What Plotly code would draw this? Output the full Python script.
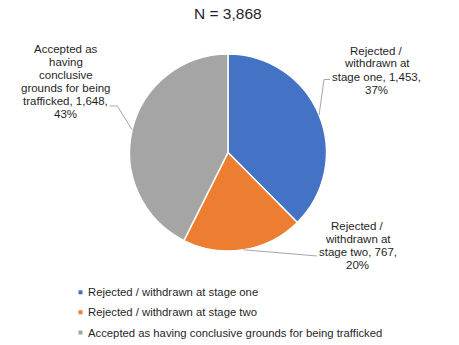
import math
import plotly.graph_objects as go

# Data
categories = [
    "Rejected / withdrawn at stage one",
    "Rejected / withdrawn at stage two",
    "Accepted as having conclusive grounds for being trafficked",
]
values = [1453, 767, 1648]
percent_labels = ["37%", "20%", "43%"]
label_lines = [
    ["Rejected /", "withdrawn at", "stage one, {v},", "{p}"],
    ["Rejected /", "withdrawn at", "stage two, {v},", "{p}"],
    ["Accepted as", "having", "conclusive", "grounds for being", "trafficked, {v},", "{p}"],
]
colors = ["#4472C4", "#ED7D31", "#A5A5A5"]

W, H = 459, 345
CX, CY, R = 228, 152.5, 98.5  # pie centre / radius in px
FONT = "Liberation Sans, Arial"
TEXT_COLOR = "#1f1f1f"


def px(x, y):
    return x / W, 1 - y / H


total = sum(values)

fig = go.Figure()
fig.add_trace(go.Pie(
    labels=categories,
    values=values,
    sort=False,
    direction="clockwise",
    rotation=0,
    marker=dict(colors=colors, line=dict(color="white", width=1.5)),
    textinfo="none",
    hoverinfo="label+value+percent",
    showlegend=False,
    domain=dict(x=[(CX - R) / W, (CX + R) / W], y=[1 - (CY + R) / H, 1 - (CY - R) / H]),
))

# Label block centres and leader-line elbows (px)
label_pos = [(376.5, 70), (357.5, 245.5), (65.5, 81.7)]
line_step = 13
elbows = [[(324, 79.5), (330, 79.5)], [(317, 256)], [(117.3, 106), (109.5, 106)]]

shapes = []
annotations = []
cum = 0
for i, v in enumerate(values):
    mid = (cum + v / 2) / total * 2 * math.pi
    cum += v
    ax_, ay_ = CX + R * math.sin(mid), CY - R * math.cos(mid)
    pts = [(ax_, ay_)] + elbows[i]
    path = "M " + " L ".join("{:.4f},{:.4f}".format(*px(x, y)) for x, y in pts)
    shapes.append(dict(type="path", path=path, xref="paper", yref="paper",
                       line=dict(color="#A6A6A6", width=1)))
    lines = [s.format(v="{:,}".format(v), p=percent_labels[i]) for s in label_lines[i]]
    cx_, cy_ = label_pos[i]
    y0 = cy_ - (len(lines) - 1) * line_step / 2
    for k, s in enumerate(lines):
        lx, ly = px(cx_, y0 + k * line_step)
        annotations.append(dict(
            x=lx, y=ly, xref="paper", yref="paper", showarrow=False, text=s,
            font=dict(family=FONT, size=11.5, color=TEXT_COLOR),
            xanchor="center", yanchor="middle",
        ))

# Legend drawn below the pie
legend_y = [292.3, 312.3, 332.5]
for i, name in enumerate(categories):
    shapes.append(dict(type="rect", xref="paper", yref="paper",
                       x0=(80.5 - 2) / W, x1=(80.5 + 2) / W,
                       y0=1 - (legend_y[i] + 2) / H, y1=1 - (legend_y[i] - 2) / H,
                       fillcolor=colors[i], line=dict(width=0)))
    tx, ty = px(86, legend_y[i])
    annotations.append(dict(
        x=tx, y=ty, xref="paper", yref="paper", showarrow=False, text=name,
        font=dict(family=FONT, size=11.3, color=TEXT_COLOR),
        xanchor="left", yanchor="middle",
    ))

# Title
tx, ty = px(228, 13.5)
annotations.append(dict(
    x=tx, y=ty, xref="paper", yref="paper", showarrow=False,
    text="N = {:,}".format(total),
    font=dict(family=FONT, size=15.5, color=TEXT_COLOR),
    xanchor="center", yanchor="middle",
))

fig.update_layout(
    width=W, height=H,
    margin=dict(l=0, r=0, t=0, b=0),
    paper_bgcolor="white", plot_bgcolor="white",
    shapes=shapes, annotations=annotations,
)

fig.write_html("out.html")
